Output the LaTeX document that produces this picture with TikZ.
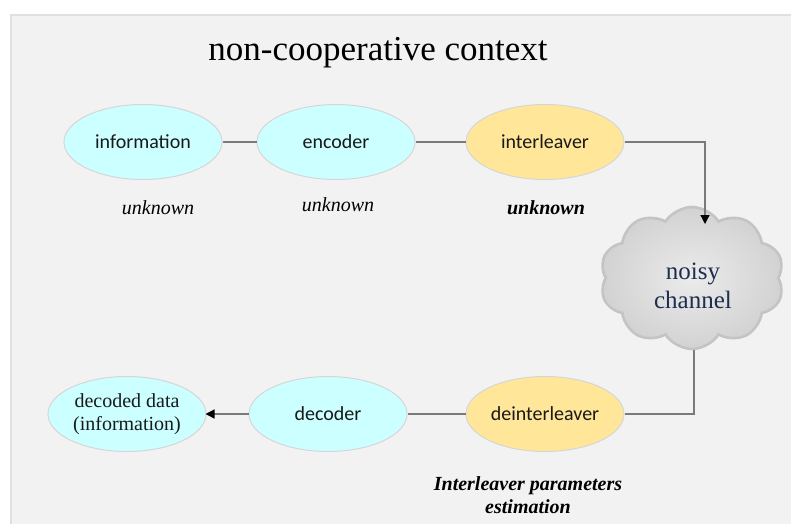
\documentclass[tikz,border=0pt]{standalone}
\usepackage{fontspec}
\setmainfont{Liberation Serif}
\newfontfamily\calib{Carlito}
\usetikzlibrary{shapes.geometric,shapes.symbols,arrows.meta}
\definecolor{panelbg}{HTML}{F2F2F2}
\definecolor{panelrule}{HTML}{E0E0E0}
\definecolor{cyanfill}{HTML}{CCFFFF}
\definecolor{orangefill}{HTML}{FFE699}
\definecolor{ellrule}{HTML}{D6D6D6}
\definecolor{wire}{HTML}{7A7A7A}
\definecolor{navytext}{HTML}{1F2D50}
\definecolor{cloudrule}{HTML}{C4C4C4}
\definecolor{cloudin}{HTML}{EBEBEB}
\definecolor{cloudout}{HTML}{D2D2D2}
\begin{document}
\begin{tikzpicture}[x=1pt,y=-1pt,
  blockcyan/.style={ellipse,draw=ellrule,line width=1pt,fill=cyanfill,
    minimum width=158pt,minimum height=75pt,inner sep=0pt,
    font=\calib\fontsize{20}{24}\selectfont,text=black!90},
  blockorange/.style={blockcyan,fill=orangefill},
  blockserif/.style={blockcyan,font=\fontsize{20}{23}\selectfont,align=center},
  wireline/.style={draw=wire,line width=1.3pt},
  arrowline/.style={wireline,-{Triangle[length=9pt,width=9pt,color=black]},shorten >=-1pt},
  note/.style={font=\fontsize{20}{22}\selectfont\itshape,align=center},
  boldnote/.style={font=\fontsize{20}{23}\selectfont\bfseries\itshape,align=center}]
  % canvas and grey panel
  \useasboundingbox (0,0) rectangle (791,523);
  \fill[white] (0,0) rectangle (791,523);
  \draw[panelrule,fill=panelbg,line width=1.2pt] (11,15) rectangle (795,527);

  % title
  \node (title) at (378,53) {\fontsize{35}{40}\selectfont non-cooperative context};

  % transmitter chain
  \node[blockcyan] (info) at (143,142) {information};
  \node[blockcyan] (enc) at (336,142) {encoder};
  \node[blockorange] (intl) at (545,142) {interleaver};

  % receiver chain
  \node[blockserif] (dec) at (127,414) {decoded data\\(information)};
  \node[blockcyan] (decd) at (328,414) {decoder};
  \node[blockorange] (dint) at (545,414) {deinterleaver};

  % connectors (drawn before the cloud so it covers their ends)
  \coordinate (chanin) at (705,223);
  \coordinate (chanout) at (694,335);
  \draw[wireline] (info) -- (enc);
  \draw[wireline] (enc) -- (intl);
  \draw[wireline] (dint.east) -| (chanout);
  \draw[wireline] (dint) -- (decd);
  \draw[arrowline] (decd) -- (dec);

  % noisy channel
  \node[cloud,cloud puffs=10,cloud puff arc=115,aspect=1.25,
    draw=cloudrule,line width=2.6pt,inner color=cloudin,outer color=cloudout,
    minimum width=184pt,minimum height=142pt] (chan) at (692,278) {};
  \node[align=center,text=navytext,font=\fontsize{25}{29}\selectfont]
    (chanlabel) at (693,286) {noisy\\channel};
  \draw[arrowline] (intl.east) -| (chanin);

  % annotations
  \node[note] (u1) at (158,208) {unknown};
  \node[note] (u2) at (338,205) {unknown};
  \node[boldnote] (u3) at (546,208) {unknown};
  \node[boldnote] (est) at (528,495) {Interleaver parameters\\estimation};
\end{tikzpicture}
\end{document}
